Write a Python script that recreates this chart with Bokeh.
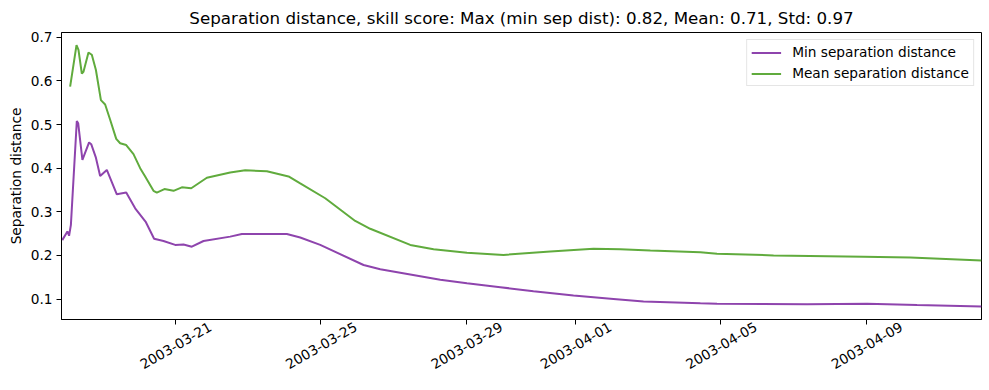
import pandas as pd
from math import pi
from bokeh.plotting import figure
from bokeh.models import FixedTicker, Range1d, Legend, LegendItem
from bokeh.embed import file_html
from bokeh.resources import INLINE

title_text = "Separation distance, skill score: Max (min sep dist): 0.82, Mean: 0.71, Std: 0.97"
y_label = "Separation distance"

min_times = [
    "2003-03-17 21:30", "2003-03-18 00:54", "2003-03-18 02:00", "2003-03-18 03:12",
    "2003-03-18 07:06", "2003-03-18 08:00", "2003-03-18 10:48", "2003-03-18 15:12",
    "2003-03-18 16:36", "2003-03-18 19:42", "2003-03-18 22:30", "2003-03-19 02:54",
    "2003-03-19 09:30", "2003-03-19 15:42", "2003-03-19 21:36", "2003-03-20 04:42",
    "2003-03-20 10:06", "2003-03-20 16:18", "2003-03-21 00:00", "2003-03-21 05:30",
    "2003-03-21 11:00", "2003-03-21 18:42", "2003-03-22 12:18", "2003-03-22 20:00",
    "2003-03-24 01:42", "2003-03-24 10:30", "2003-03-24 23:42", "2003-03-26 04:18",
    "2003-03-26 15:18", "2003-03-28 06:54", "2003-03-29 00:30", "2003-03-29 22:30",
    "2003-03-30 20:24", "2003-03-31 22:48", "2003-04-02 01:12", "2003-04-02 21:00",
    "2003-04-04 10:30", "2003-04-04 21:30", "2003-04-07 08:54", "2003-04-09 00:30",
    "2003-04-10 09:30", "2003-04-12 04:00",
]
min_sep = [
    0.235, 0.255, 0.245, 0.270,
    0.508, 0.503, 0.419, 0.459,
    0.455, 0.424, 0.382, 0.396,
    0.340, 0.344, 0.308, 0.276,
    0.238, 0.233, 0.224, 0.225,
    0.220, 0.233, 0.243, 0.249,
    0.249, 0.241, 0.224, 0.178,
    0.168, 0.144, 0.136, 0.127,
    0.118, 0.108, 0.100, 0.094,
    0.090, 0.089, 0.088, 0.089,
    0.086, 0.083,
]

mean_times = [
    "2003-03-18 02:42", "2003-03-18 06:54", "2003-03-18 08:12", "2003-03-18 10:24",
    "2003-03-18 11:30", "2003-03-18 14:48", "2003-03-18 17:00", "2003-03-18 19:42",
    "2003-03-18 23:00", "2003-03-19 01:48", "2003-03-19 05:06", "2003-03-19 09:06",
    "2003-03-19 11:42", "2003-03-19 15:42", "2003-03-19 20:30", "2003-03-20 00:54",
    "2003-03-20 04:12", "2003-03-20 09:42", "2003-03-20 11:54", "2003-03-20 16:54",
    "2003-03-20 22:54", "2003-03-21 04:24", "2003-03-21 10:36", "2003-03-21 20:54",
    "2003-03-22 12:18", "2003-03-22 22:12", "2003-03-23 12:30", "2003-03-24 02:48",
    "2003-03-24 10:30", "2003-03-25 03:00", "2003-03-25 22:48", "2003-03-26 08:42",
    "2003-03-27 11:06", "2003-03-28 02:30", "2003-03-29 00:30", "2003-03-30 00:36",
    "2003-03-31 07:30", "2003-04-01 12:00", "2003-04-02 05:42", "2003-04-03 01:30",
    "2003-04-04 10:30", "2003-04-04 21:30", "2003-04-06 10:48", "2003-04-08 22:12",
    "2003-04-10 05:00", "2003-04-12 04:00",
]
mean_sep = [
    0.587, 0.682, 0.671, 0.617,
    0.621, 0.665, 0.660, 0.625,
    0.556, 0.546, 0.511, 0.467,
    0.457, 0.453, 0.432, 0.400,
    0.381, 0.348, 0.344, 0.352,
    0.348, 0.356, 0.354, 0.378,
    0.390, 0.395, 0.393, 0.381,
    0.365, 0.331, 0.279, 0.261,
    0.224, 0.214, 0.206, 0.201,
    0.209, 0.215, 0.214, 0.211,
    0.207, 0.204, 0.200, 0.197,
    0.195, 0.188,
]

x_tick_dates = ["2003-03-21", "2003-03-25", "2003-03-29", "2003-04-01", "2003-04-05", "2003-04-09"]
y_ticks = [0.1, 0.2, 0.3, 0.4, 0.5, 0.6, 0.7]
x_limits = ["2003-03-17 21:00", "2003-04-12 04:00"]
y_limits = [0.053, 0.711]

series_names = ["Min separation distance", "Mean separation distance"]
colors = ["#8e44ad", "#60ab3d"]

FONT = "DejaVu Sans"
FRAME_W = 920
FRAME_H = 287


def ms(s):
    return int(pd.Timestamp(s).value // 1_000_000)


x0, x1 = ms(x_limits[0]), ms(x_limits[1])
ms_per_px = (x1 - x0) / FRAME_W

p = figure(
    x_axis_type="datetime",
    output_backend="svg",
    toolbar_location=None,
    x_range=Range1d(x0, x1),
    y_range=Range1d(y_limits[0], y_limits[1]),
    min_border_left=61, min_border_right=8, min_border_top=31, min_border_bottom=10,
    frame_width=FRAME_W, frame_height=FRAME_H,
)

p.title.text = title_text
p.title.align = "center"
p.title.text_font = FONT
p.title.text_font_size = "16.7px"
p.title.text_font_style = "normal"
p.title.text_color = "black"
p.title.offset = 0

p.xgrid.visible = False
p.ygrid.visible = False
p.outline_line_color = "black"
p.outline_line_alpha = 1
p.outline_line_width = 1
p.background_fill_color = "white"
p.border_fill_color = "white"

r_min = p.line(pd.to_datetime(min_times), min_sep, color=colors[0], line_width=2)
r_mean = p.line(pd.to_datetime(mean_times), mean_sep, color=colors[1], line_width=2)

# Bokeh anchors the end of a rotated label at its tick; matplotlib centres it.
# Tick marks are drawn as minor ticks at the true dates; the (invisible) major
# ticks carrying the labels are shifted right by half the rotated label width.
tick_ms = [ms(d) for d in x_tick_dates]
label_shift = int(35 * ms_per_px)
label_ms = [t + label_shift for t in tick_ms]
p.xaxis.ticker = FixedTicker(ticks=label_ms, minor_ticks=tick_ms)
p.xaxis.major_label_overrides = {t: d for t, d in zip(label_ms, x_tick_dates)}
p.xaxis.major_label_orientation = pi / 6
p.xaxis.major_tick_line_color = None
p.xaxis.major_tick_out = 0
p.xaxis.major_tick_in = 0
p.xaxis.minor_tick_line_color = "black"
p.xaxis.minor_tick_out = 5
p.xaxis.minor_tick_in = 0
p.xaxis.axis_line_color = "black"
p.xaxis.major_label_text_font = FONT
p.xaxis.major_label_text_font_size = "13.7px"
p.xaxis.major_label_text_color = "black"
p.xaxis.major_label_standoff = 1

p.yaxis.ticker = FixedTicker(ticks=y_ticks)
p.yaxis.axis_label = y_label
p.yaxis.axis_line_color = "black"
p.yaxis.major_tick_line_color = "black"
p.yaxis.major_tick_out = 5
p.yaxis.major_tick_in = 0
p.yaxis.minor_tick_out = 0
p.yaxis.minor_tick_in = 0
p.yaxis.axis_label_text_font = FONT
p.yaxis.axis_label_text_font_size = "13.7px"
p.yaxis.axis_label_text_font_style = "normal"
p.yaxis.axis_label_text_color = "black"
p.yaxis.major_label_text_font = FONT
p.yaxis.major_label_text_font_size = "13.7px"
p.yaxis.major_label_text_color = "black"
p.yaxis.major_label_standoff = 4
p.yaxis.axis_label_standoff = 4

legend = Legend(
    items=[LegendItem(label=series_names[0], renderers=[r_min]),
           LegendItem(label=series_names[1], renderers=[r_mean])],
    location="top_right",
)
legend.margin = 7
legend.padding = 4
legend.spacing = 5
legend.glyph_width = 30
legend.glyph_height = 15
legend.label_height = 15
legend.label_standoff = 11
legend.label_text_font = FONT
legend.label_text_font_size = "13.7px"
legend.label_text_color = "black"
legend.border_line_color = "#cccccc"
legend.border_line_width = 1
legend.background_fill_alpha = 0.8
p.add_layout(legend, "center")

open("out.html", "w").write(file_html(p, INLINE))
